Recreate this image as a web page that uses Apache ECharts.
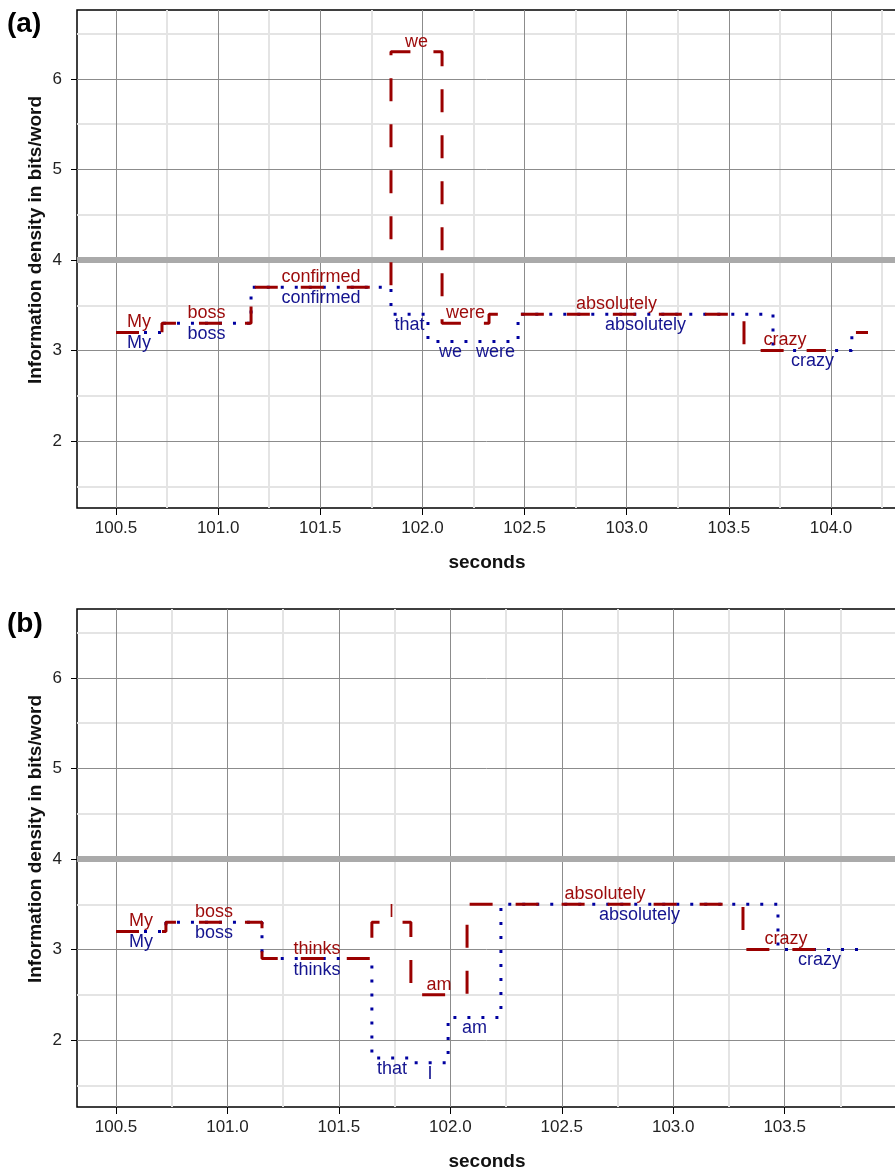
<!DOCTYPE html>
<html lang="en">
<head>
<meta charset="UTF-8">
<title>Information density</title>
<script src="https://cdn.jsdelivr.net/npm/echarts@6/dist/echarts.min.js"></script>
<style>html,body{margin:0;padding:0;background:#fff;}</style>
</head>
<body>
<div id="main" style="width:895px;height:1172px;"></div>
<script type="text/javascript">
// ---- panel (a): "My boss confirmed (that) we were absolutely crazy" ----
var aRedWords  = ['My', 'boss', 'confirmed', 'we', 'were', 'absolutely', 'crazy', ''];
var aRedStart  = [100.5, 100.725, 101.161, 101.846, 102.096, 102.326, 103.574, 104.122];
var aRedEnd    = [100.725, 101.161, 101.846, 102.096, 102.326, 103.574, 103.975, 104.181];
var aRedValue  = [3.2, 3.3, 3.7, 6.3, 3.3, 3.4, 3.0, 3.2];

var aBlueWords = ['My', 'boss', 'confirmed', 'that', 'we', 'were', 'absolutely', 'crazy', ''];
var aBlueStart = [100.5, 100.725, 101.161, 101.846, 102.027, 102.247, 102.468, 103.716, 104.102];
var aBlueEnd   = [100.725, 101.161, 101.846, 102.027, 102.247, 102.468, 103.716, 104.102, 104.181];
var aBlueValue = [3.2, 3.3, 3.7, 3.4, 3.1, 3.1, 3.4, 3.0, 3.2];

// ---- panel (b): "My boss thinks (that) I am absolutely crazy" ----
var bRedWords  = ['My', 'boss', 'thinks', 'I', 'am', 'absolutely', 'crazy'];
var bRedStart  = [100.5, 100.724, 101.155, 101.648, 101.823, 102.075, 103.313];
var bRedEnd    = [100.724, 101.155, 101.648, 101.823, 102.075, 103.313, 103.70];
var bRedValue  = [3.2, 3.3, 2.9, 3.3, 2.5, 3.5, 3.0];

var bBlueWords = ['My', 'boss', 'thinks', 'that', 'I', 'am', 'absolutely', 'crazy'];
var bBlueStart = [100.5, 100.724, 101.155, 101.648, 101.828, 101.99, 102.227, 103.47];
var bBlueEnd   = [100.724, 101.155, 101.648, 101.828, 101.99, 102.227, 103.47, 103.842];
var bBlueValue = [3.2, 3.3, 2.9, 1.8, 1.75, 2.25, 3.5, 3.0];

// ---- axes ----
var aXTicks = [100.5, 101.0, 101.5, 102.0, 102.5, 103.0, 103.5, 104.0];
var aXMinor = [100.75, 101.25, 101.75, 102.25, 102.75, 103.25, 103.75, 104.25];
var bXTicks = [100.5, 101.0, 101.5, 102.0, 102.5, 103.0, 103.5];
var bXMinor = [100.75, 101.25, 101.75, 102.25, 102.75, 103.25, 103.75];
var yTicks  = [2, 3, 4, 5, 6];
var yMinor  = [1.5, 2.5, 3.5, 4.5, 5.5, 6.5];
var refLevel = 4;

var FONT = '"Liberation Sans", Arial, Helvetica, sans-serif';
var RED = '#9a0000', BLUE = '#0000a0';
var RED_TXT = '#9c0a0a', BLUE_TXT = '#14148f';

// 把单词区间变成阶梯折线
function stepData(start, end, value) {
    var d = [];
    for (var i = 0; i < start.length; i++) {
        if (i > 0 && Math.abs(start[i] - end[i - 1]) > 1e-6) d.push(['-', '-']);
        d.push([start[i], value[i]]);
        d.push([end[i], value[i]]);
    }
    return d;
}

function labelData(words, start, end, value) {
    var d = [];
    for (var i = 0; i < words.length; i++) {
        if (!words[i]) continue;
        d.push({ name: words[i], value: [(start[i] + end[i]) / 2, value[i]] });
    }
    return d;
}

// 网格线和 4 bits 参考线（markLine 默认 z 是 5，要压到数据线下面）
function gridLines(idx, xMinor, xMajor) {
    var d = [];
    xMinor.forEach(function (v) { d.push({ xAxis: v, lineStyle: { color: '#e4e4e4', width: 2, type: 'solid' } }); });
    yMinor.forEach(function (v) { d.push({ yAxis: v, lineStyle: { color: '#e4e4e4', width: 2, type: 'solid' } }); });
    xMajor.forEach(function (v) { d.push({ xAxis: v, lineStyle: { color: '#8c8c8c', width: 1, type: 'solid' } }); });
    yTicks.forEach(function (v) { d.push({ yAxis: v, lineStyle: { color: '#8c8c8c', width: 1, type: 'solid' } }); });
    return [{
        type: 'line', xAxisIndex: idx, yAxisIndex: idx, data: [], z: 1, silent: true,
        markLine: { z: 1, symbol: ['none', 'none'], silent: true, animation: false, label: { show: false }, data: d }
    }, {
        type: 'line', xAxisIndex: idx, yAxisIndex: idx, data: [], z: 2, silent: true,
        markLine: {
            z: 2, symbol: ['none', 'none'], silent: true, animation: false, label: { show: false },
            data: [{ yAxis: refLevel, lineStyle: { color: '#aaaaaa', width: 6, type: 'solid' } }]
        }
    }];
}

function stepSeries(idx, data, color, dash) {
    return {
        type: 'line', xAxisIndex: idx, yAxisIndex: idx, data: data, z: 3,
        showSymbol: false, silent: true, connectNulls: false,
        lineStyle: { color: color, width: 3, type: dash, cap: 'butt' }
    };
}

function labelSeries(idx, data, color, pos, dist) {
    return {
        type: 'scatter', xAxisIndex: idx, yAxisIndex: idx, data: data, z: 4,
        symbol: 'circle', symbolSize: 0, silent: true,
        itemStyle: { color: color, opacity: 0 },
        label: {
            show: true, position: pos, distance: dist, formatter: '{b}',
            color: color, opacity: 1, fontSize: 18, fontFamily: FONT,
            textBorderWidth: 0, textShadowBlur: 0
        },
        labelLayout: { hideOverlap: false }
    };
}

function xAxisOpt(idx, min, max, ticks) {
    return {
        gridIndex: idx, type: 'value', min: min, max: max,
        axisLine: { show: false },
        axisTick: { show: true, customValues: ticks, length: 7, lineStyle: { color: '#000' } },
        axisLabel: {
            customValues: ticks, margin: 12, fontSize: 17, color: '#222', fontFamily: FONT,
            formatter: function (v) { return v.toFixed(1); }
        },
        splitLine: { show: false },
        name: 'seconds', nameLocation: 'middle', nameGap: 45,
        nameTextStyle: { fontSize: 19, fontWeight: 'bold', color: '#111', fontFamily: FONT }
    };
}

function yAxisOpt(idx) {
    return {
        gridIndex: idx, type: 'value', min: 1.26, max: 6.762,
        axisLine: { show: false },
        axisTick: { show: true, customValues: yTicks, length: 6, lineStyle: { color: '#000' } },
        axisLabel: { customValues: yTicks, margin: 15, fontSize: 17, color: '#222', fontFamily: FONT },
        splitLine: { show: false }
    };
}

var myChart = echarts.init(document.getElementById('main'), null, { renderer: 'canvas' });

var option = {
    animation: false,
    backgroundColor: '#fff',
    grid: [
        { left: 77, top: 10, height: 498, right: -2, show: true, borderColor: '#000', borderWidth: 1.5, outerBoundsMode: 'none' },
        { left: 77, top: 609, height: 498, right: -2, show: true, borderColor: '#000', borderWidth: 1.5, outerBoundsMode: 'none' }
    ],
    xAxis: [
        xAxisOpt(0, 100.309, 104.323, aXTicks),
        xAxisOpt(1, 100.325, 104.004, bXTicks)
    ],
    yAxis: [yAxisOpt(0), yAxisOpt(1)],
    graphic: [
        { type: 'text', x: 7, y: 24, style: { text: '(a)', font: 'bold 28px ' + FONT, fill: '#000', verticalAlign: 'middle' } },
        { type: 'text', x: 7, y: 624, style: { text: '(b)', font: 'bold 28px ' + FONT, fill: '#000', verticalAlign: 'middle' } },
        { type: 'text', x: 36, y: 240, rotation: Math.PI / 2, style: { text: 'Information density in bits/word', font: 'bold 19px ' + FONT, fill: '#111', align: 'center', verticalAlign: 'middle' } },
        { type: 'text', x: 36, y: 839, rotation: Math.PI / 2, style: { text: 'Information density in bits/word', font: 'bold 19px ' + FONT, fill: '#111', align: 'center', verticalAlign: 'middle' } }
    ],
    series: [].concat(
        gridLines(0, aXMinor, aXTicks),
        gridLines(1, bXMinor, bXTicks),
        [
            stepSeries(0, stepData(aBlueStart, aBlueEnd, aBlueValue), BLUE, [3, 11]),
            stepSeries(0, stepData(aRedStart, aRedEnd, aRedValue), RED, [23, 23]),
            stepSeries(1, stepData(bBlueStart, bBlueEnd, bBlueValue), BLUE, [3, 11]),
            stepSeries(1, stepData(bRedStart, bRedEnd, bRedValue), RED, [23, 23]),
            labelSeries(0, labelData(aRedWords, aRedStart, aRedEnd, aRedValue), RED_TXT, 'top', 1),
            labelSeries(0, labelData(aBlueWords, aBlueStart, aBlueEnd, aBlueValue), BLUE_TXT, 'bottom', 2),
            labelSeries(1, labelData(bRedWords, bRedStart, bRedEnd, bRedValue), RED_TXT, 'top', 1),
            labelSeries(1, labelData(bBlueWords, bBlueStart, bBlueEnd, bBlueValue), BLUE_TXT, 'bottom', 2)
        ]
    )
};

myChart.setOption(option);
</script>
</body>
</html>
